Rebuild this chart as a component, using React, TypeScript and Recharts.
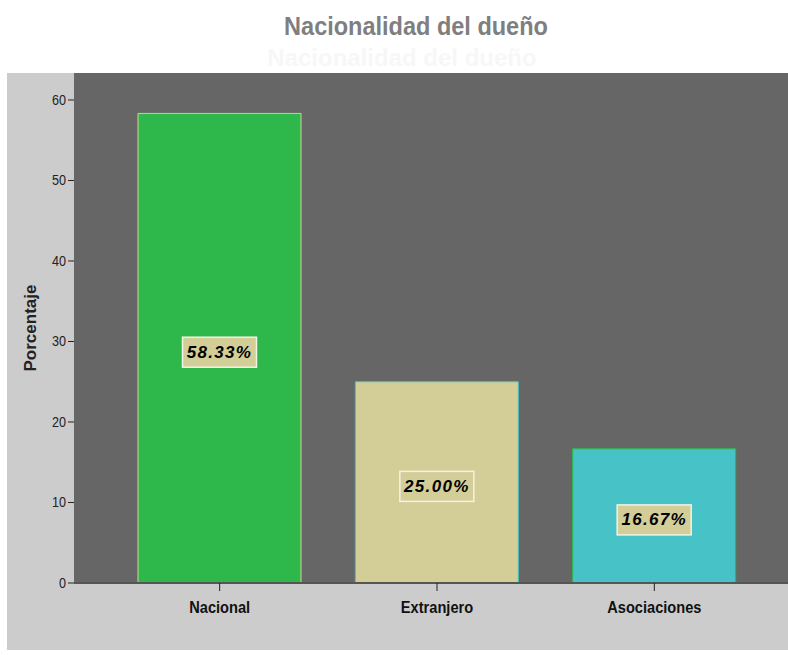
import React from "react";
import { BarChart, Bar, XAxis, YAxis, CartesianGrid, Cell, LabelList } from "recharts";

const categories = ["Nacional", "Extranjero", "Asociaciones"];
const percentages = [58.33, 25.0, 16.67];
const yTicks = [0, 10, 20, 30, 40, 50, 60];

const fills = ["#2eb84b", "#d3ce98", "#47c2c6"];
const strokes = ["#d3ce98", "#47c2c6", "#2eb84b"];

const data = categories.map((name, i) => ({ name, value: percentages[i] }));

const sans = "'Liberation Sans', Arial, sans-serif";

function ValueLabel(props: any) {
  const { x, y, width, height, value } = props;
  const cx = x + width / 2;
  const cy = y + height / 2 + 4;
  const w = 74;
  const h = 30;
  return (
    <g>
      <rect x={cx - w / 2} y={cy - h / 2} width={w} height={h} fill="#d3cd98" stroke="#f4f2e4" strokeWidth={1.5} />
      <text
        x={cx}
        y={cy}
        textAnchor="middle"
        dominantBaseline="central"
        fontFamily={sans}
        fontWeight="bold"
        fontStyle="italic"
        fontSize={17}
        letterSpacing={1.3}
        fill="#000"
      >
        {value.toFixed(2) + "%"}
      </text>
    </g>
  );
}

function XTick(props: any) {
  const { x, y, payload } = props;
  return (
    <g transform={`translate(${x},${y + 14}) scale(0.86,1)`}>
      <text x={0} y={0} textAnchor="middle" dominantBaseline="central" fontFamily={sans} fontWeight="bold" fontSize={17} fill="#111">
        {payload.value}
      </text>
    </g>
  );
}

function YTick(props: any) {
  const { x, y, payload } = props;
  return (
    <g transform={`translate(${x},${y}) scale(0.9,1)`}>
      <text x={0} y={0} textAnchor="end" dominantBaseline="central" fontFamily={sans} fontSize={14} fill="#222">
        {payload.value}
      </text>
    </g>
  );
}

export default function App() {
  return (
    <div style={{ position: "absolute", left: 0, top: 0, width: 788, height: 655, background: "#fff", overflow: "hidden" }}>
      <div
        style={{
          position: "absolute",
          left: 0,
          top: 10,
          width: 832,
          textAlign: "center",
          fontFamily: sans,
          fontWeight: "bold",
          fontSize: 25,
          lineHeight: "32px",
          color: "#7f7f7f",
          transform: "scaleX(0.94)",
          transformOrigin: "416px 0",
        }}
      >
        Nacionalidad del dueño
      </div>
      <div
        style={{
          position: "absolute",
          left: 0,
          top: 44,
          width: 804,
          textAlign: "center",
          fontFamily: sans,
          fontWeight: "bold",
          fontSize: 24,
          lineHeight: "28px",
          color: "#f7f7f7",
        }}
      >
        Nacionalidad del dueño
      </div>
      <div style={{ position: "absolute", left: 7, top: 73, width: 781, height: 577, background: "#cccccc" }} />
      <div style={{ position: "absolute", left: 0, top: 0 }}>
        <BarChart width={788} height={655} data={data} margin={{ top: 73, right: 0, bottom: 0, left: 0 }} barSize={163}>
          <CartesianGrid horizontal={false} vertical={false} fill="#666666" stroke="none" />
          <XAxis
            dataKey="name"
            height={72}
            padding={{ left: 37, right: 25 }}
            axisLine={{ stroke: "#555", strokeWidth: 2 }}
            tickLine={{ stroke: "#222" }}
            tickSize={8}
            tick={<XTick />}
          />
          <YAxis
            width={74}
            domain={[0, 63.35]}
            ticks={yTicks}
            axisLine={false}
            tickLine={{ stroke: "#222" }}
            tickSize={6}
            tickMargin={2}
            tick={<YTick />}
            label={{
              value: "Porcentaje",
              angle: -90,
              position: "insideLeft",
              offset: 30,
              style: { fontFamily: sans, fontWeight: "bold", fontSize: 17, fill: "#222", textAnchor: "middle" },
            }}
          />
          <Bar dataKey="value" isAnimationActive={false} strokeWidth={1}>
            {data.map((d, i) => (
              <Cell key={d.name} fill={fills[i]} stroke={strokes[i]} />
            ))}
            <LabelList dataKey="value" content={<ValueLabel />} />
          </Bar>
        </BarChart>
      </div>
    </div>
  );
}
